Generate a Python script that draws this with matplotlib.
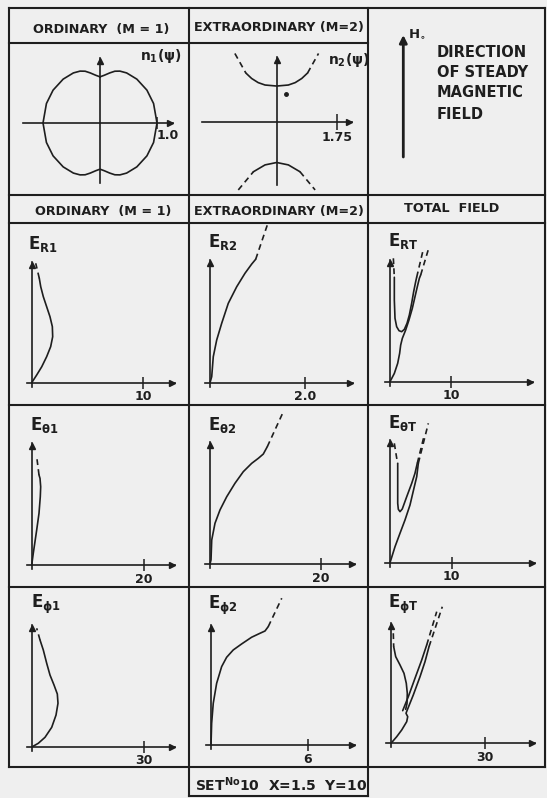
import numpy as np
import matplotlib.pyplot as plt

plt.rcParams.update({
    'font.family': 'DejaVu Sans',
    'font.weight': 'bold',
    'mathtext.fontset': 'custom',
    'mathtext.rm': 'DejaVu Sans:bold',
    'mathtext.it': 'DejaVu Sans:bold',
    'mathtext.bf': 'DejaVu Sans:bold',
})

W, H = 547, 798
PAPER = '#efefef'
INK = '#1e1e1e'
DASH = (0, (3.5, 2.5))
LW = 1.2

# ordinary index surface n1(psi), psi in degrees from H0 (first quadrant)
psi1 = [0, 5, 11, 16, 21, 28, 40, 55, 70, 90]
n1 = [0.81, 0.84, 0.895, 0.945, 0.975, 0.995, 1.005, 1.005, 1.0, 1.0]

# extraordinary index surface n2(psi): (n sin psi, n cos psi) of both branches
n2_up_x = [-1.22, -0.90, -0.73, -0.54, -0.34, 0.0, 0.34, 0.54, 0.73, 0.90, 1.22]
n2_up_y = [1.99, 1.42, 1.26, 1.14, 1.07, 1.04, 1.07, 1.14, 1.26, 1.42, 1.99]
n2_lo_x = [-1.12, -0.68, -0.34, 0.0, 0.34, 0.68, 1.12]
n2_lo_y = [-1.99, -1.46, -1.26, -1.19, -1.26, -1.46, -1.99]
n2_dot_x, n2_dot_y = [0.26], [0.80]

# field patterns (x = field strength, y = height in axis lengths)
er1_x = [0, 0.45, 0.90, 1.34, 1.70, 1.88, 1.85, 1.64, 1.34, 1.04, 0.81, 0.68, 0.54, 0.36]
er1_y = [0, 0.064, 0.132, 0.215, 0.298, 0.380, 0.463, 0.545, 0.628, 0.711, 0.793, 0.863, 0.917, 0.987]

er2_x = [0, 0.036, 0.069, 0.141, 0.246, 0.385, 0.562, 0.737, 0.878, 0.962, 1.221]
er2_y = [0, 0.049, 0.212, 0.348, 0.484, 0.647, 0.782, 0.892, 0.967, 1.006, 1.302]

ert_u_x = [0.55, 0.71, 0.71, 0.82, 1.09, 1.48, 1.91, 2.35, 2.79, 3.17, 3.55, 3.88, 4.21, 4.37, 5.46]
ert_u_y = [1.014, 0.858, 0.671, 0.521, 0.452, 0.419, 0.411, 0.430, 0.480, 0.548, 0.644, 0.740, 0.822, 0.858, 1.088]
ert_b_x = [0, 0.71, 1.26, 1.58, 1.75, 2.02, 2.57, 3.11, 3.66, 4.10, 4.48, 4.81, 5.03, 6.39]
ert_b_y = [0, 0.068, 0.151, 0.233, 0.301, 0.356, 0.425, 0.507, 0.603, 0.699, 0.781, 0.849, 0.877, 1.104]

eth1_x = [0, 0.28, 0.89, 1.30, 1.53, 1.60, 1.48, 1.30, 0.89]
eth1_y = [0, 0.096, 0.288, 0.425, 0.561, 0.643, 0.712, 0.740, 0.890]

eth2_x = [0, 0.18, 0.31, 0.90, 1.80, 3.01, 4.50, 6.00, 7.51, 8.70, 9.60, 10.32, 13.21]
eth2_y = [0, 0.033, 0.196, 0.333, 0.442, 0.550, 0.660, 0.755, 0.823, 0.864, 0.899, 0.959, 1.245]

etht_u_x = [0.70, 1.09, 1.25, 1.25, 1.25, 1.35, 1.62, 1.99, 2.71, 3.52, 4.05, 4.42, 5.56]
etht_u_y = [0.973, 0.851, 0.810, 0.674, 0.484, 0.435, 0.416, 0.438, 0.538, 0.647, 0.729, 0.810, 1.041]
etht_b_x = [0, 0.81, 1.62, 2.43, 3.24, 3.94, 4.33, 4.59, 6.21]
etht_b_y = [0, 0.130, 0.240, 0.348, 0.470, 0.619, 0.701, 0.810, 1.136]

ephi1_x = [0, 1.61, 3.41, 5.21, 6.37, 6.90, 6.72, 5.83, 4.75, 3.87, 2.95, 2.07, 1.18]
ephi1_y = [0, 0.028, 0.077, 0.159, 0.260, 0.357, 0.433, 0.507, 0.589, 0.685, 0.795, 0.877, 0.973]

ephi2_x = [0, 0.04, 0.14, 0.35, 0.66, 0.97, 1.38, 1.90, 2.52, 3.04, 3.35, 3.55, 4.39]
ephi2_y = [0, 0.181, 0.348, 0.514, 0.653, 0.731, 0.792, 0.842, 0.898, 0.931, 0.950, 0.986, 1.223]

ephit_a_x = [0.73, 0.86, 1.50, 2.87, 4.15, 4.88, 5.20, 5.11, 4.69]
ephit_a_y = [0.917, 0.805, 0.722, 0.653, 0.583, 0.500, 0.417, 0.333, 0.283]
ephit_b_x = [3.73, 5.52, 7.66, 9.80, 11.39, 14.59]
ephit_b_y = [0.272, 0.388, 0.542, 0.694, 0.819, 1.097]
ephit_c_x = [0, 1.82, 3.42, 5.01, 5.33, 4.79, 5.20, 7.12, 9.26, 10.85, 12.13, 16.37]
ephit_c_y = [0, 0.055, 0.111, 0.180, 0.222, 0.250, 0.278, 0.403, 0.555, 0.680, 0.805, 1.138]

tick_vals = [10, 2.0, 10, 20, 20, 10, 30, 6, 30]
tick_text = ['10', '2.0', '10', '20', '20', '10', '30', '6', '30']
field_names = [r'$E_{R1}$', r'$E_{R2}$', r'$E_{RT}$',
               r'$E_{\theta 1}$', r'$E_{\theta 2}$', r'$E_{\theta T}$',
               r'$E_{\phi 1}$', r'$E_{\phi 2}$', r'$E_{\phi T}$']

fig = plt.figure(figsize=(W / 100, H / 100), dpi=100, facecolor=PAPER)

# page axes in pixel units for the ruled table and lettering
page = fig.add_axes([0, 0, 1, 1])
page.set_xlim(0, W)
page.set_ylim(H, 0)
page.axis('off')


def rule(x0, y0, x1, y1, lw=1.5):
    page.plot([x0, x1], [y0, y1], color=INK, lw=lw, solid_capstyle='projecting')


rule(9, 8, 545, 8)
rule(9, 43, 368, 43)
for yy in (195, 223, 405, 587, 767):
    rule(9, yy, 545, yy)
rule(9, 8, 9, 767)
rule(189, 8, 189, 796)
rule(368, 8, 368, 796)
rule(545, 8, 545, 767)
rule(189, 796, 368, 796)

head_kw = dict(fontsize=9.2, ha='center', va='center', color=INK)
page.text(101, 29, 'ORDINARY  (M = 1)', **head_kw)
page.text(279, 28, 'EXTRAORDINARY (M=2)', **head_kw)
page.text(103, 211, 'ORDINARY  (M = 1)', **head_kw)
page.text(279, 211, 'EXTRAORDINARY (M=2)', **head_kw)
page.text(452, 208, 'TOTAL  FIELD', **head_kw)
page.text(281, 785, r'SET$^{\mathrm{No}}$10  X=1.5  Y=10', fontsize=10,
          ha='center', va='center', color=INK)

# steady magnetic field direction
page.annotate('', xy=(403.3, 35), xytext=(403.3, 157),
              arrowprops=dict(arrowstyle='-|>', lw=2, color=INK, mutation_scale=11,
                              shrinkA=0, shrinkB=0))
page.text(408, 37, r'$H_{\circ}$', fontsize=9.5, color=INK, va='baseline')
for yy, line in zip((57, 77, 97, 119), ('DIRECTION', 'OF STEADY', 'MAGNETIC', 'FIELD')):
    page.text(437, yy, line, fontsize=10.5, color=INK, va='baseline')

page.text(140, 60, r'$n_1(\psi)$', fontsize=10, color=INK, va='baseline')
page.text(328, 64, r'$n_2(\psi)$', fontsize=10, color=INK, va='baseline')

label_pos = [(28, 249), (208, 247.5), (388, 246),
             (30, 430), (208, 430), (388, 428),
             (31, 608.5), (208, 609), (388, 608)]
for (lx, ly), name in zip(label_pos, field_names):
    page.text(lx, ly, name, fontsize=12, color=INK, va='baseline')


def pixel_axes(x0, y0, x1, y1):
    ax = fig.add_axes([x0 / W, 1 - y1 / H, (x1 - x0) / W, (y1 - y0) / H])
    ax.set_facecolor('none')
    return ax


def cross_axes(ax, sx, sy, ms=5):
    for s in ('top', 'right'):
        ax.spines[s].set_visible(False)
    for s in ('left', 'bottom'):
        ax.spines[s].set_position(('data', 0))
        ax.spines[s].set_color(INK)
        ax.spines[s].set_linewidth(LW)
    x1 = ax.get_xlim()[1]
    y1 = ax.get_ylim()[1]
    ax.plot([x1 - 3 / sx], [0], marker='>', ms=ms, color=INK, clip_on=False)
    ax.plot([0], [y1 - 3 / sy], marker='^', ms=ms, color=INK, clip_on=False)
    ax.set_yticks([])
    ax.tick_params(axis='x', direction='inout', length=9, width=1.1, color=INK,
                   labelsize=9, labelcolor=INK, pad=1)


def trace(ax, x, y, head=0, tail=0):
    n = len(x)
    ax.plot(x[head:n - tail], y[head:n - tail], color=INK, lw=LW, clip_on=False,
            solid_capstyle='round', solid_joinstyle='round')
    if head:
        ax.plot(x[:head + 1], y[:head + 1], color=INK, lw=LW, ls=DASH, clip_on=False)
    if tail:
        ax.plot(x[n - tail - 1:], y[n - tail - 1:], color=INK, lw=LW, ls=DASH, clip_on=False)


# ordinary index surface
s = 57.0
ax = pixel_axes(23, 58, 173, 183)
ax.set_xlim(-77 / s, 73 / s)
ax.set_ylim(-60 / s, 65 / s)
cross_axes(ax, s, s)
ax.set_xticks([1.0])
ax.set_xticklabels(['1.0'], ha='left')
ax.tick_params(axis='x', pad=0)
p = np.radians(psi1)
r = np.array(n1)
ang = np.concatenate([p, np.pi - p[::-1], np.pi + p, 2 * np.pi - p[::-1]])
rad = np.concatenate([r, r[::-1], r, r[::-1]])
ax.plot(rad * np.sin(ang), rad * np.cos(ang), color=INK, lw=LW, solid_joinstyle='round')

# extraordinary index surface
s = 60 / 1.75
ax = pixel_axes(201.7, 56.7, 351.7, 185)
ax.set_xlim(-75 / s, 75 / s)
ax.set_ylim(-63.3 / s, 65 / s)
cross_axes(ax, s, s)
ax.set_xticks([1.75])
ax.set_xticklabels(['1.75'])
ax.tick_params(axis='x', length=12)
trace(ax, n2_up_x, n2_up_y, head=1, tail=1)
trace(ax, n2_lo_x, n2_lo_y, head=1, tail=1)
ax.plot(n2_dot_x, n2_dot_y, 'o', ms=2.5, color=INK)

# field panels: origin pixel, arrow tips, tick pixel
frames = [
    (31.7, 382.7, 175, 261.7, 143.3),
    (210, 382.7, 353.3, 260, 305),
    (390, 381.7, 533.3, 260, 451),
    (31.7, 565, 175, 443.3, 144),
    (210, 564, 355, 441.7, 321),
    (390, 562.7, 535, 440, 451.7),
    (32.3, 746.7, 175, 625, 144),
    (211, 745, 355, 625, 307.7),
    (391, 743.3, 535, 623.3, 485),
]
curves = [
    [(er1_x, er1_y, 0, 2)],
    [(er2_x, er2_y, 0, 1)],
    [(ert_u_x, ert_u_y, 1, 1), (ert_b_x, ert_b_y, 0, 1)],
    [(eth1_x, eth1_y, 0, 1)],
    [(eth2_x, eth2_y, 0, 1)],
    [(etht_u_x, etht_u_y, 2, 1), (etht_b_x, etht_b_y, 0, 1)],
    [(ephi1_x, ephi1_y, 0, 1)],
    [(ephi2_x, ephi2_y, 0, 1)],
    [(ephit_a_x, ephit_a_y, 1, 0), (ephit_b_x, ephit_b_y, 0, 1), (ephit_c_x, ephit_c_y, 0, 1)],
]

for (ox, oy, tx, ty, tpx), tv, tt, crv in zip(frames, tick_vals, tick_text, curves):
    sx = (tpx - ox) / tv
    sy = oy - ty
    ax = pixel_axes(ox - 5, ty, tx, oy + 4)
    ax.set_xlim(-5 / sx, (tx - ox) / sx)
    ax.set_ylim(-4 / sy, 1.0)
    cross_axes(ax, sx, sy)
    ax.set_xticks([tv])
    ax.set_xticklabels([tt])
    for cx, cy, hd, tl in crv:
        trace(ax, cx, cy, hd, tl)

fig.savefig('out.png', dpi=100, facecolor=PAPER)
